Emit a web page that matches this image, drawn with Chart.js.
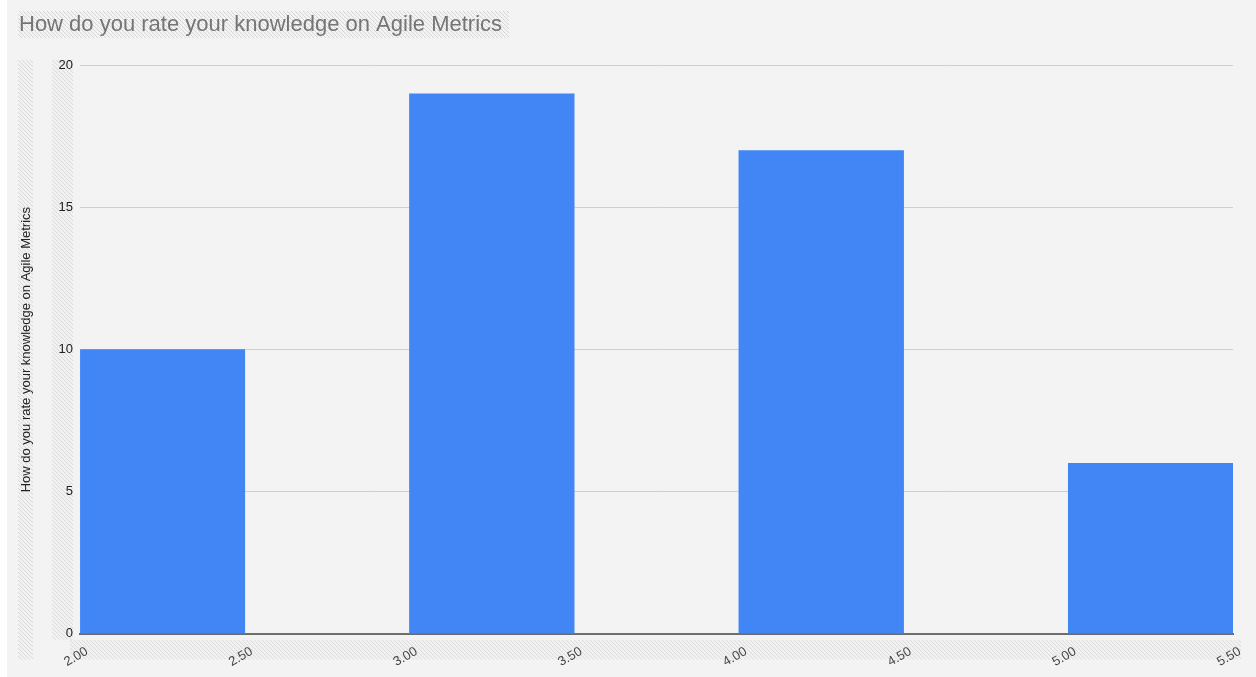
<!DOCTYPE html>
<html>
<head>
<meta charset="utf-8">
<script src="https://cdn.jsdelivr.net/npm/chart.js@4/dist/chart.umd.min.js"></script>
<style>
  html, body { margin: 0; padding: 0; background: #ffffff; }
  #wrap { width: 1256px; height: 677px; }
</style>
</head>
<body>
<div id="wrap"><canvas id="hist" width="1256" height="677"></canvas></div>
<script>
// histogram bins (start of each 0.5 wide bucket) and counts
const binStarts = [2.0, 2.5, 3.0, 3.5, 4.0, 4.5, 5.0];
const binCounts = [10, 0, 19, 0, 17, 0, 6];
const binWidth = 0.5;
const yTicks = [0, 5, 10, 15, 20];
const chartTitle = 'How do you rate your knowledge on Agile Metrics';
const yTitle = 'How do you rate your knowledge on Agile Metrics';

const FONT = 'Arial, "Liberation Sans", sans-serif';

// light diagonal hatch used behind the editable text areas
function hatch(ctx, x, y, w, h) {
    ctx.save();
    ctx.beginPath();
    ctx.rect(x, y, w, h);
    ctx.clip();
    ctx.strokeStyle = '#d6d6d6';
    ctx.lineWidth = 1;
    ctx.beginPath();
    for (let i = -h; i < w + h; i += 4) {
        ctx.moveTo(x + i, y);
        ctx.lineTo(x + i + h, y + h);
    }
    ctx.stroke();
    ctx.restore();
}

const backdrop = {
    id: 'backdrop',
    beforeDraw(chart) {
        const { ctx, chartArea: a, width, height } = chart;
        ctx.save();
        ctx.fillStyle = '#f3f3f3';
        ctx.fillRect(7, 0, width - 7, height);
        ctx.font = '22px ' + FONT;
        const tw = ctx.measureText(chartTitle).width;
        ctx.restore();
        hatch(ctx, 18, 11, tw + 8, 27);
        hatch(ctx, 18, a.top - 6, 15, a.bottom - a.top + 32);
        hatch(ctx, a.left - 28, a.top - 6, 21, a.bottom - a.top + 12);
        hatch(ctx, a.left - 10, a.bottom + 6, a.right - a.left + 18, 20);
    }
};

const points = binStarts.map((s, i) => ({ x: s + binWidth / 2, y: binCounts[i] }));

new Chart(document.getElementById('hist'), {
    type: 'bar',
    data: {
        datasets: [{
            data: points,
            backgroundColor: '#4285f4',
            borderWidth: 0,
            barPercentage: 1,
            categoryPercentage: 1
        }]
    },
    options: {
        responsive: false,
        animation: false,
        layout: { padding: { left: 19, right: 23, top: 8, bottom: 5 } },
        plugins: {
            legend: { display: false },
            tooltip: { enabled: false },
            title: {
                display: true,
                text: chartTitle,
                align: 'start',
                color: '#757575',
                font: { family: FONT, size: 22, weight: 'normal' },
                padding: { top: 4, bottom: 27 }
            }
        },
        scales: {
            x: {
                type: 'linear',
                z: 1,
                min: binStarts[0],
                max: binStarts[binStarts.length - 1] + binWidth,
                offset: false,
                grid: { display: false, offset: false },
                border: { display: true, color: '#6b6b6b', width: 2 },
                ticks: {
                    stepSize: binWidth,
                    minRotation: 30,
                    maxRotation: 30,
                    labelOffset: 7,
                    padding: 2,
                    color: '#444',
                    font: { family: FONT, size: 13 },
                    callback: v => Number(v).toFixed(2)
                }
            },
            y: {
                min: yTicks[0],
                max: yTicks[yTicks.length - 1],
                afterBuildTicks: axis => { axis.ticks = yTicks.map(v => ({ value: v })); },
                grid: { color: '#cfcfcf', drawTicks: false },
                border: { display: false },
                ticks: {
                    padding: 7,
                    color: '#222',
                    font: { family: FONT, size: 13 }
                },
                title: {
                    display: true,
                    text: yTitle,
                    color: '#222',
                    font: { family: FONT, size: 13 },
                    padding: { top: 0, bottom: 17 }
                }
            }
        }
    },
    plugins: [backdrop]
});
</script>
</body>
</html>
